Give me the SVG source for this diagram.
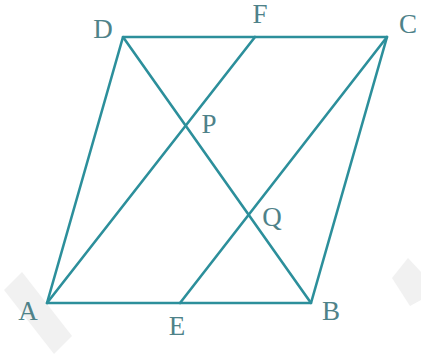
<svg xmlns="http://www.w3.org/2000/svg" width="421" height="358" viewBox="0 0 421 358">
<style>
.e{stroke:#2c8f9b;stroke-width:2.6;fill:none;stroke-linecap:round;stroke-linejoin:round}
.l{font-family:"Liberation Serif",serif;font-size:27px;fill:#4e8289;text-anchor:middle}
.w{fill:#f1f1f1}
</style>
<rect width="421" height="358" fill="#ffffff"/>
<g id="watermark">
<polygon class="w" points="4,290 22,272 72,336 54,354"/>
<polygon class="w" points="392,278 408,258 421,272 421,300 410,306"/>
</g>
<g id="connectors">
<polygon class="e" points="47,303 311,303 387,37 123,37"/>
<line class="e" x1="47" y1="303" x2="255" y2="37"/>
<line class="e" x1="180" y1="303" x2="387" y2="37"/>
<line class="e" x1="123" y1="37" x2="311" y2="303"/>
</g>
<g id="A"><text class="l" x="28" y="320">A</text></g>
<g id="B"><text class="l" x="331" y="320">B</text></g>
<g id="C"><text class="l" x="408" y="33">C</text></g>
<g id="D"><text class="l" x="103" y="38">D</text></g>
<g id="E"><text class="l" x="177" y="335">E</text></g>
<g id="F"><text class="l" x="260" y="23">F</text></g>
<g id="P"><text class="l" x="209" y="133">P</text></g>
<g id="Q"><text class="l" x="272" y="226">Q</text></g>
</svg>
